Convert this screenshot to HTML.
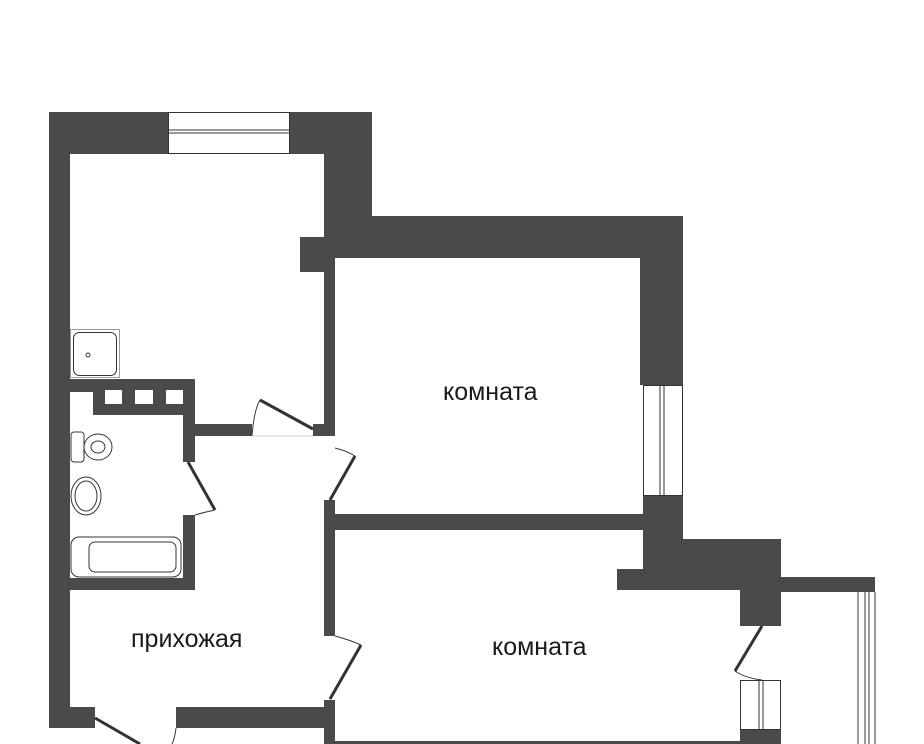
<!DOCTYPE html>
<html><head><meta charset="utf-8"><style>
html,body{margin:0;padding:0;background:#fff;width:924px;height:744px;overflow:hidden}
svg{display:block}
text{font-family:"Liberation Sans","DejaVu Sans",sans-serif;font-size:25px;fill:#1a1a1a}
</style></head><body>
<svg width="924" height="744" viewBox="0 0 924 744">
<g fill="#4a4b49">
<!-- left outer wall -->
<rect x="49" y="112" width="21" height="616"/>
<rect x="49" y="112" width="119" height="42"/>
<rect x="290" y="112" width="82" height="42"/>
<rect x="324" y="112" width="48" height="146"/>
<rect x="300" y="237" width="35" height="35"/>
<rect x="324" y="216" width="359" height="42"/>
<rect x="640" y="216" width="43" height="169"/>
<!-- kitchen right wall -->
<rect x="324" y="258" width="11" height="178"/>
<rect x="313" y="424" width="22" height="12"/>
<rect x="195" y="424" width="57" height="12"/>
<!-- bathroom -->
<rect x="49" y="379" width="146" height="13"/>
<rect x="93" y="379" width="102" height="36"/>
<rect x="183" y="379" width="12" height="83"/>
<rect x="183" y="515" width="12" height="75"/>
<rect x="49" y="578" width="146" height="12"/>
<!-- corridor right wall -->
<rect x="324" y="500" width="11" height="136"/>
<rect x="324" y="700" width="11" height="44"/>
<!-- hall bottom -->
<rect x="49" y="707" width="46" height="21"/>
<rect x="176" y="707" width="151" height="21"/>
<!-- mid wall -->
<rect x="335" y="514" width="308" height="16"/>
<rect x="643" y="496" width="40" height="79"/>
<rect x="683" y="539" width="98" height="51"/>
<rect x="617" y="569" width="164" height="21"/>
<rect x="740" y="590" width="41" height="36"/>
<rect x="781" y="577" width="94" height="15"/>
<rect x="740" y="730" width="41" height="14"/>
<rect x="335" y="741" width="405" height="3"/>
</g>
<g fill="#fff"><rect x="105" y="390" width="17" height="14"/><rect x="135" y="390" width="18" height="14"/><rect x="166" y="390" width="17" height="14"/></g>
<g fill="none" stroke="#333" stroke-width="1">
<!-- top window -->
<rect x="168.5" y="112.5" width="121" height="41"/>
<line x1="168" y1="130" x2="290" y2="130"/><line x1="168" y1="133" x2="290" y2="133"/>
<!-- room1 window -->
<rect x="643.5" y="385.5" width="39" height="110"/>
<line x1="660" y1="385" x2="660" y2="496"/><line x1="664" y1="385" x2="664" y2="496"/>
<!-- room2 window -->
<rect x="740.5" y="680.5" width="40" height="49"/>
<line x1="759" y1="680" x2="759" y2="730"/><line x1="763" y1="680" x2="763" y2="730"/>
<!-- balcony -->
<line x1="858" y1="592" x2="858" y2="744"/><line x1="865" y1="592" x2="865" y2="744"/><line x1="869" y1="592" x2="869" y2="744"/><line x1="875" y1="592" x2="875" y2="744"/>
<!-- sink -->
<rect x="70.5" y="329.5" width="49" height="48" stroke="#999"/>
<rect x="73.5" y="332.5" width="43" height="43" rx="6"/>
<circle cx="88" cy="355" r="2"/>
<!-- toilet -->
<rect x="71" y="432" width="13" height="30" rx="3"/>
<ellipse cx="98" cy="447" rx="14" ry="13"/><ellipse cx="98" cy="447" rx="7" ry="6"/>
<!-- washbasin -->
<ellipse cx="86" cy="496" rx="15" ry="19"/><ellipse cx="86" cy="496" rx="11" ry="15"/>
<!-- bath -->
<rect x="71" y="537" width="110" height="40" rx="8"/>
<rect x="89" y="542" width="87" height="30" rx="6"/>
<!-- door arcs -->
<path d="M252 436 Q254 410 260 400"/>
<path d="M195 515 Q205 512 215 510"/>
<path d="M335 448 Q347 451 355 456"/>
<path d="M335 636 Q350 640 361 645"/>
<path d="M735 671 Q745 678 762 680"/>
<path d="M176 728 Q175 738 172 744"/>
<line x1="252" y1="436" x2="313" y2="436" stroke="#ccc"/>
</g>
<g stroke="#333" stroke-width="3" fill="none">
<line x1="260" y1="400" x2="313" y2="429"/>
<line x1="188" y1="462" x2="215" y2="510"/>
<line x1="355" y1="456" x2="330" y2="500"/>
<line x1="361" y1="645" x2="330" y2="699"/>
<line x1="762" y1="626" x2="735" y2="671"/>
<line x1="95" y1="718" x2="140" y2="744"/>
</g>
<text x="443" y="400">комната</text>
<text x="492" y="655">комната</text>
<text x="131" y="647">прихожая</text>
</svg>
</body></html>
